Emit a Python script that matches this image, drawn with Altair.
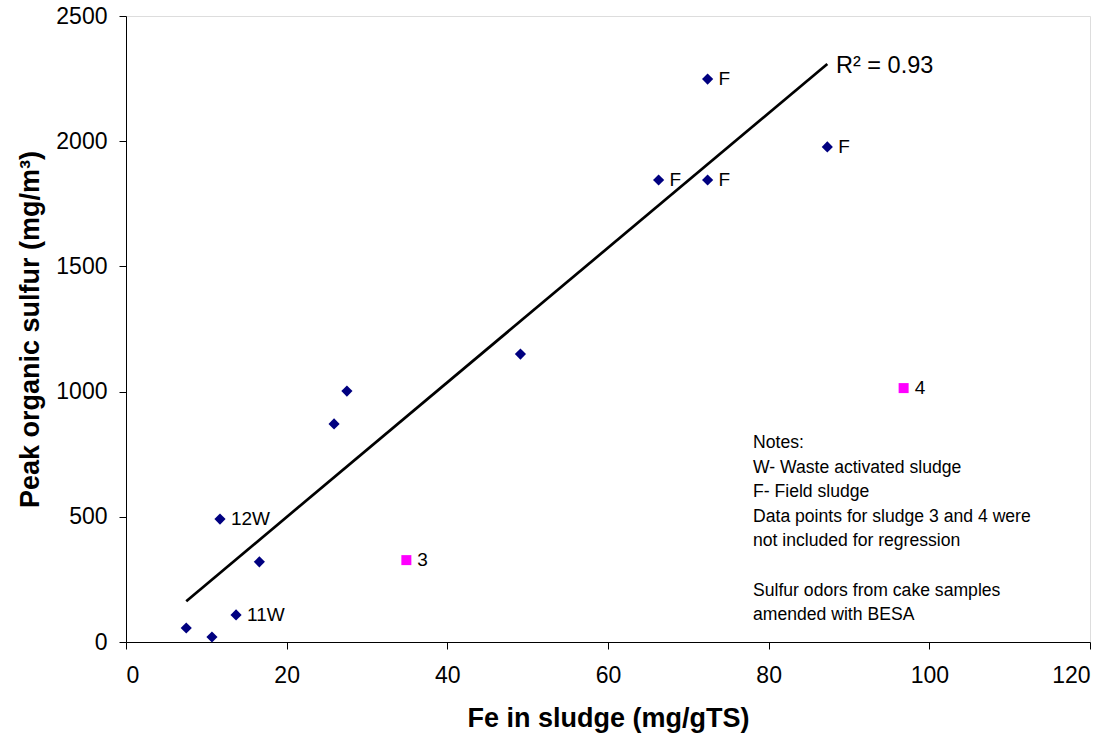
import altair as alt
import pandas as pd

# Regression samples (blue diamonds)
fe_reg = [7.5, 10.7, 13.7, 16.6, 11.7, 25.9, 27.5, 49.1, 66.3, 72.4, 72.4, 87.3]
sulfur_reg = [56, 20, 108, 320, 491, 871, 1002, 1150, 1845, 1845, 2248, 1977]
label_reg = ["", "", "11W", "", "12W", "", "", "", "F", "F", "F", "F"]

# Excluded samples (magenta squares)
fe_exc = [34.9, 96.8]
sulfur_exc = [327, 1014]
label_exc = ["3", "4"]

r2_text = "R² = 0.93"
notes = [
    "Notes:",
    "W- Waste activated sludge",
    "F- Field sludge",
    "Data points for sludge 3 and 4 were",
    "not included for regression",
    "",
    "Sulfur odors from cake samples",
    "amended with BESA",
]

reg = pd.DataFrame({"fe": fe_reg, "s": sulfur_reg, "lab": label_reg})
exc = pd.DataFrame({"fe": fe_exc, "s": sulfur_exc, "lab": label_exc})
notes_df = pd.DataFrame({"line": notes, "i": list(range(len(notes)))})

FONT = "Liberation Sans"

xs = alt.Scale(domain=[0, 120], nice=False, zero=False)
ys = alt.Scale(domain=[0, 2500], nice=False, zero=False)

xax = alt.Axis(values=[0, 20, 40, 60, 80, 100, 120], grid=False, tickSize=7, format="d",
               labelFont=FONT, labelFontSize=23, labelColor="black",
               labelPadding=15, domainColor="black", tickColor="black",
               title="Fe in sludge (mg/gTS)", titleFont=FONT, titleFontSize=27,
               titleFontWeight="bold", titleColor="black", titleX=482, titleY=76,
               titleBaseline="middle", titleAlign="center")
yax = alt.Axis(values=[0, 500, 1000, 1500, 2000, 2500], grid=False, tickSize=7, format="d",
               labelFont=FONT, labelFontSize=23, labelColor="black", labelPadding=12,
               domainColor="black", tickColor="black",
               title="Peak organic sulfur (mg/m³)", titleFont=FONT, titleFontSize=27,
               titleFontWeight="bold", titleColor="black", titleX=-96, titleY=313,
               titleBaseline="middle", titleAlign="center", titleAngle=-90)

X = alt.X("fe:Q", scale=xs, axis=xax)
Y = alt.Y("s:Q", scale=ys, axis=yax)

line = alt.Chart(reg).transform_regression("fe", "s", method="linear").mark_line(
    color="black", strokeWidth=2.7
).encode(x=X, y=Y)

pts = alt.Chart(reg).mark_point(shape="diamond", filled=True, size=125, color="#000080",
                                opacity=1).encode(x=X, y=Y)
pts_lab = alt.Chart(reg).mark_text(align="left", baseline="middle", dx=11, fontSize=19,
                                   font=FONT, color="black").encode(x=X, y=Y, text="lab:N")

exc_pts = alt.Chart(exc).mark_point(shape="square", filled=True, size=100, color="#FF00FF",
                                    opacity=1).encode(x=X, y=Y)
exc_lab = alt.Chart(exc).mark_text(align="left", baseline="middle", dx=11, fontSize=19,
                                   font=FONT, color="black").encode(x=X, y=Y, text="lab:N")

r2 = alt.Chart(pd.DataFrame({"t": [r2_text]})).mark_text(
    align="left", baseline="middle", fontSize=23.5, font=FONT, color="black").encode(
    x=alt.value(710), y=alt.value(50), text="t:N")

notes_layer = alt.Chart(notes_df).transform_calculate(
    py="427 + datum.i * 24.6"
).mark_text(align="left", baseline="middle", fontSize=17.6, font=FONT, color="black").encode(
    x=alt.value(627), y=alt.Y("py:Q", scale=None), text="line:N")

chart = alt.layer(line, pts, pts_lab, exc_pts, exc_lab, r2, notes_layer).properties(
    width=964, height=626,
    autosize=alt.AutoSizeParams(type="none"),
    padding={"left": 126, "top": 16, "right": 27, "bottom": 98},
).configure_view(stroke=None).configure(background="white")

chart.save("out.html", embed_options={"renderer": "svg", "actions": False})
